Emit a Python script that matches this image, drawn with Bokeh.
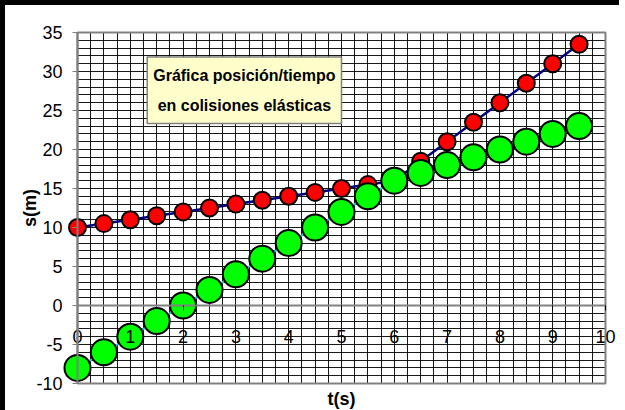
from bokeh.plotting import figure
from bokeh.models import (LinearAxis, SingleIntervalTicker, FixedTicker, Label,
                          Range1d, NumeralTickFormatter)
from bokeh.embed import file_html
from bokeh.resources import INLINE

# Data
t = [0, 0.5, 1, 1.5, 2, 2.5, 3, 3.5, 4, 4.5, 5, 5.5, 6, 6.5, 7, 7.5, 8, 8.5, 9, 9.5]
s_red = [10, 10.5, 11, 11.5, 12, 12.5, 13, 13.5, 14, 14.5, 15, 15.5, 16, 18.5, 21, 23.5, 26, 28.5, 31, 33.5]
s_green = [-8, -6, -4, -2, 0, 2, 4, 6, 8, 10, 12, 14, 16, 17, 18, 19, 20, 21, 22, 23]
x_ticks = [0, 1, 2, 3, 4, 5, 6, 7, 8, 9, 10]
y_ticks = [-10, -5, 0, 5, 10, 15, 20, 25, 30, 35]
title_text = "Gráfica posición/tiempo\nen colisiones elásticas"
x_label = "t(s)"
y_label = "s(m)"

# axis limits of the plot area
X_MIN, X_MAX = 0, 10
Y_MIN, Y_MAX = -10, 35

FONT = "Liberation Sans"
PX_PER_X = 52.8
PX_PER_Y = 7.8
LEFT_PAD, RIGHT_PAD, TOP_PAD, BOTTOM_PAD = 72, 14, 20, 30

p = figure(frame_width=614, frame_height=351 + TOP_PAD + BOTTOM_PAD,
           x_range=Range1d(X_MIN - LEFT_PAD / PX_PER_X, X_MAX + RIGHT_PAD / PX_PER_X),
           y_range=Range1d(Y_MIN - BOTTOM_PAD / PX_PER_Y, Y_MAX + TOP_PAD / PX_PER_Y),
           output_backend="svg", toolbar_location=None,
           x_axis_location=None, y_axis_location=None,
           min_border_left=0, min_border_top=27 - TOP_PAD, min_border_right=0,
           min_border_bottom=0)
p.styles = {"border-left": "5px solid black", "border-top": "5px solid black"}
p.background_fill_color = "white"
p.border_fill_color = "white"
p.outline_line_color = None

# grids
p.xgrid.ticker = SingleIntervalTicker(interval=0.25, num_minor_ticks=0)
p.ygrid.ticker = SingleIntervalTicker(interval=1, num_minor_ticks=0)
p.xgrid.bounds = (X_MIN, X_MAX)
p.ygrid.bounds = (Y_MIN, Y_MAX)
p.xgrid.cross_bounds = (Y_MIN, Y_MAX)
p.ygrid.cross_bounds = (X_MIN, X_MAX)
for g in (p.xgrid, p.ygrid):
    g.grid_line_color = "black"
    g.grid_line_width = 1
    g.grid_line_alpha = 0.9

# plot-area border
p.quad(left=[X_MIN], right=[X_MAX], bottom=[Y_MIN], top=[Y_MAX],
       fill_color=None, line_color="#808080", line_width=2)

# y axis at x=0
ya = LinearAxis(fixed_location=0, ticker=FixedTicker(ticks=y_ticks),
                formatter=NumeralTickFormatter(format="0"), bounds=(Y_MIN, Y_MAX))
ya.axis_label = y_label
ya.axis_label_text_font = FONT
ya.axis_label_text_font_style = "bold"
ya.axis_label_text_font_size = "18px"
ya.axis_label_text_color = "black"
ya.axis_label_standoff = -7
ya.major_label_text_font = FONT
ya.major_label_text_font_size = "18px"
ya.major_label_text_color = "black"
ya.major_label_standoff = 10
ya.major_tick_out = 5
ya.major_tick_in = 0
ya.minor_tick_out = 0
ya.minor_tick_in = 0
ya.major_tick_line_color = "#808080"
ya.axis_line_color = "#808080"
ya.axis_line_width = 2
p.add_layout(ya, "left")

# x axis crossing at y=0
xa = LinearAxis(fixed_location=0, ticker=FixedTicker(ticks=x_ticks),
                formatter=NumeralTickFormatter(format="0"), bounds=(X_MIN, X_MAX))
xa.major_label_text_font = FONT
xa.major_label_text_font_size = "18px"
xa.major_label_text_color = "black"
xa.major_label_standoff = 19
xa.major_tick_out = 5
xa.major_tick_in = 0
xa.minor_tick_out = 0
xa.minor_tick_in = 0
xa.major_tick_line_color = "black"
xa.axis_line_color = "#808080"
xa.axis_line_width = 2
p.add_layout(xa, "below")

# x axis title, centred under the plot area
p.add_layout(Label(x=(X_MIN + X_MAX) / 2, y=Y_MIN, y_offset=-15, text=x_label,
                   text_align="center", text_baseline="middle",
                   text_font=FONT, text_font_style="bold", text_font_size="18px",
                   text_color="black"))

# series
p.line(t, s_red, line_color="#000080", line_width=2.5)
p.scatter(t, s_red, size=17, fill_color="red", line_color="black", line_width=2)
p.line(t, s_green, line_color="#33CCCC", line_width=2)
p.scatter(t, s_green, size=26, fill_color="#00FF00", line_color="black", line_width=2)

# title box
lab = Label(x=3.16, y=27.6, text=title_text, text_align="center", text_baseline="middle",
            text_font=FONT, text_font_style="bold", text_font_size="16px",
            text_line_height=1.74, text_color="black",
            background_fill_color="#FFFFCC", border_line_color="#808080",
            border_line_width=1.5,
            padding=dict(left=6, right=6, top=10, bottom=10))
p.add_layout(lab)

open("out.html", "w").write(file_html(p, INLINE))
